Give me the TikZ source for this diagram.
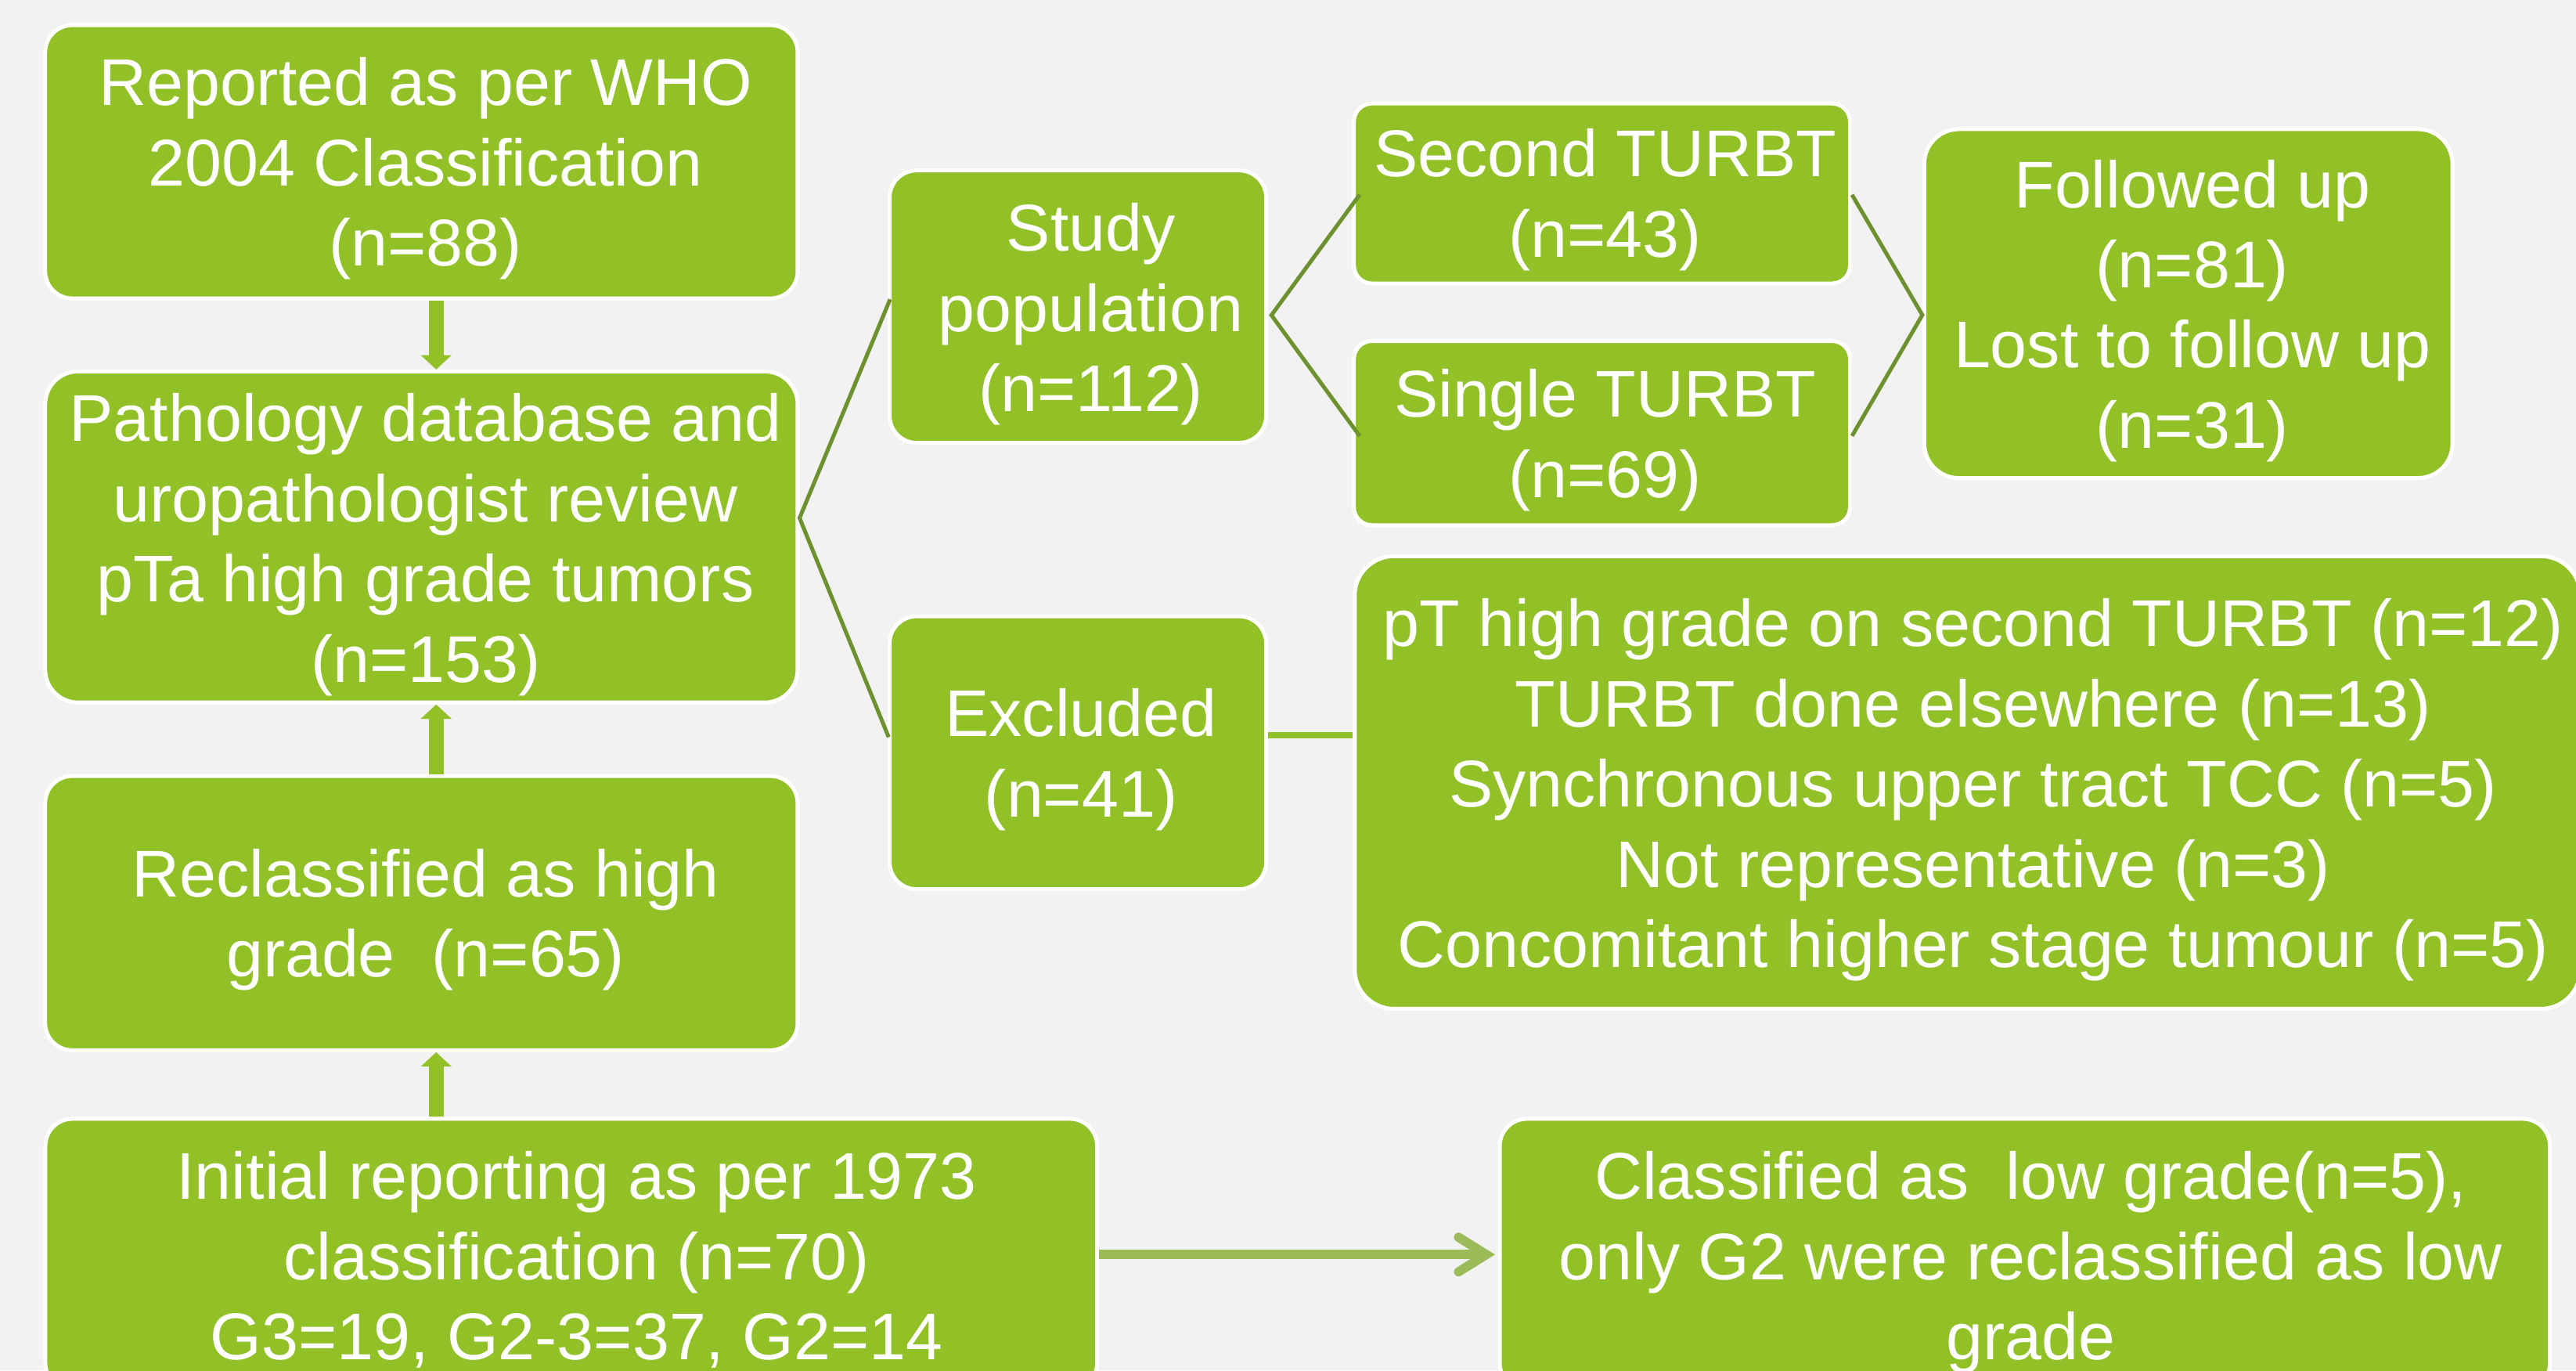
\documentclass[tikz,border=0pt]{standalone}
\usepackage{fontspec}
\setmainfont{Liberation Sans}
\usetikzlibrary{arrows.meta}
\definecolor{bggray}{HTML}{F2F2F2}
\definecolor{boxgreen}{HTML}{92C127}
\definecolor{olivel}{HTML}{6E9130}
\definecolor{lightolive}{HTML}{9BBB59}
\begin{document}
\begin{tikzpicture}[x=1pt,y=-1pt,
  box/.style={draw=white, line width=2.4pt, fill=boxgreen, inner sep=0pt, rectangle},
  txt/.style={text=white, align=center, anchor=base, inner sep=0pt,
              font=\fontsize{40.2pt}{48.8pt}\selectfont},
  conn/.style={draw=olivel, line width=2.4pt},
  fat/.style={draw=boxgreen, line width=9.1pt, -{Triangle[width=18.3pt,length=8.7pt]}},
  lightarrow/.style={draw=lightolive, line width=5.6pt},
  exline/.style={draw=boxgreen, line width=3.6pt}]
\useasboundingbox (0,0) rectangle (1568,833.8);
\fill[bggray] (0,0) rectangle (1568,833.8);
\clip (0,0) rectangle (1568,833.8);

% boxes
\node[box, minimum width=458pt, minimum height=166.3pt, rounded corners=16.5pt] (A) at (256.5,98.45) {};
\node[box, minimum width=458pt, minimum height=201.5pt, rounded corners=20pt] (B) at (256.5,326.75) {};
\node[box, minimum width=458pt, minimum height=166.9pt, rounded corners=16.5pt] (C) at (256.5,555.65) {};
\node[box, minimum width=640.2pt, minimum height=165.2pt, rounded corners=16.5pt] (D) at (347.7,763.4) {};
\node[box, minimum width=639.2pt, minimum height=165.2pt, rounded corners=16.5pt] (E) at (1232.5,763.4) {};
\node[box, minimum width=229.2pt, minimum height=165.8pt, rounded corners=16.5pt] (F) at (656.1,186.6) {};
\node[box, minimum width=229.2pt, minimum height=166.1pt, rounded corners=16.5pt] (G) at (656.1,458.05) {};
\node[box, minimum width=302pt, minimum height=109.5pt, rounded corners=11pt] (H) at (975.1,117.75) {};
\node[box, minimum width=302pt, minimum height=112.1pt, rounded corners=11pt] (I) at (975.1,263.55) {};
\node[box, minimum width=321.5pt, minimum height=212.3pt, rounded corners=21pt] (J) at (1332.05,184.75) {};
\node[box, minimum width=746pt, minimum height=275.5pt, rounded corners=24pt] (K) at (1197.6,476.15) {};

% connectors
\coordinate (xa) at (265.5,0);
\draw[fat] (A.south -| xa) -- (B.north -| xa);
\draw[fat] (C.north -| xa) -- (B.south -| xa);
\draw[fat] (D.north -| xa) -- (C.south -| xa);

\draw[conn] ([xshift=1.5pt,yshift=4.5pt]F.west) -- ([yshift=11.55pt]B.east) -- ([xshift=0.6pt,yshift=9.5pt]G.west);
\draw[conn] ([xshift=4.7pt,yshift=-0.75pt]H.west) -- ([xshift=2pt,yshift=-5.2pt]F.east) -- ([xshift=4.7pt,yshift=-1.75pt]I.west);
\draw[conn] ([yshift=-0.75pt]H.east) -- ([yshift=-6.95pt]J.west) -- ([yshift=-1.75pt]I.east);

\draw[exline] ([yshift=10.75pt]G.east) -- ([yshift=10.75pt]G.east -| K.west);

\draw[lightarrow] (D.east) -- ([xshift=-9pt]E.west);
\draw[lightarrow, line cap=round, line join=miter] ([xshift=-23.9pt,yshift=10.5pt]E.west) -- ([xshift=-7pt]E.west) -- ([xshift=-23.9pt,yshift=-10.5pt]E.west);

% texts (anchor = baseline of the last line)
\node[txt] (At) at (259,161.9) {Reported as per WHO\\2004 Classification\\(n=88)};
\node[txt] (Bt) at (259,415) {Pathology database and\\uropathologist review\\pTa high grade tumors\\(n=153)};
\node[txt] (Ct) at (259,594.5) {Reclassified as high\\grade\ \ (n=65)};
\node[txt] (Dt) at (351,827.5) {Initial reporting as per 1973\\classification (n=70)\\G3=19, G2-3=37, G2=14};
\node[txt] (Et) at (1236,827.4) {Classified as\ \ low grade(n=5),\\only G2 were reclassified as low\\grade};
\node[txt] (Ft) at (664,250.5) {Study\\population\\(n=112)};
\node[txt] (Gt) at (658,497.1) {Excluded\\(n=41)};
\node[txt] (Ht) at (977,156.3) {Second TURBT\\(n=43)};
\node[txt] (It) at (977,302.7) {Single TURBT\\(n=69)};
\node[txt] (Jt) at (1334.5,272.7) {Followed up\\(n=81)\\Lost to follow up\\(n=31)};
\node[txt] (Kt) at (1201,588.7) {pT high grade on second TURBT (n=12)\\TURBT done elsewhere (n=13)\\Synchronous upper tract TCC (n=5)\\Not representative (n=3)\\Concomitant higher stage tumour (n=5)};
\end{tikzpicture}
\end{document}
